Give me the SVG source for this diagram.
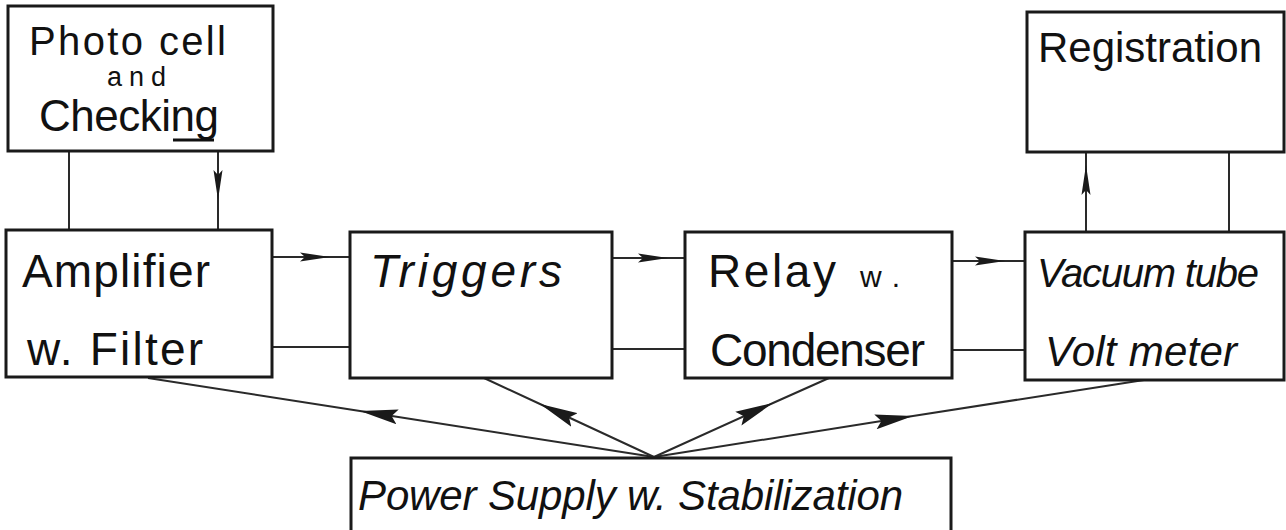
<svg xmlns="http://www.w3.org/2000/svg" width="1286" height="530" viewBox="0 0 1286 530">
<style>
.box{fill:#fff;stroke:#1a1a1a;stroke-width:3}
.t{font-family:"Liberation Sans","DejaVu Sans",sans-serif;fill:#111;font-size:46px}
.i{font-style:italic}
.c{fill:none;stroke:#2a2a2a;stroke-width:2}
</style>
<defs>
<marker id="ah" markerUnits="userSpaceOnUse" viewBox="0 0 30 10" refX="30" refY="5" markerWidth="30" markerHeight="10" orient="auto">
<path d="M0,0.5 L30,5 L0,9.5 L5,5 z" fill="#1a1a1a"/>
</marker>
<marker id="ad" markerUnits="userSpaceOnUse" viewBox="0 0 38 16" refX="38" refY="8" markerWidth="38" markerHeight="16" orient="auto">
<path d="M0,0.5 L38,8 L0,15.5 L6,8 z" fill="#1a1a1a"/>
</marker>
</defs>
<rect width="1286" height="530" fill="#fff"/>

<g id="connectors">
<path class="c" d="M69,151 L69,230"/>
<path class="c" d="M218,151 L218,200 L218,230" marker-mid="url(#ah)"/>
<path class="c" d="M272,257 L330,257 L350,257" marker-mid="url(#ah)"/>
<path class="c" d="M272,347 L350,347"/>
<path class="c" d="M612,258 L668,258 L685,258" marker-mid="url(#ah)"/>
<path class="c" d="M612,349 L685,349"/>
<path class="c" d="M952,261 L1005,261 L1025,261" marker-mid="url(#ah)"/>
<path class="c" d="M952,350 L1025,350"/>
<path class="c" d="M1086,232 L1086,165 L1086,152" marker-mid="url(#ah)"/>
<path class="c" d="M1229,152 L1229,232"/>
<path class="c" d="M654,457 L360,411 L148,378" marker-mid="url(#ad)"/>
<path class="c" d="M654,457 L540,404 L484,378" marker-mid="url(#ad)"/>
<path class="c" d="M654,457 L773,403 L829,378" marker-mid="url(#ad)"/>
<path class="c" d="M654,457 L913,416 L1144,380" marker-mid="url(#ad)"/>
</g>

<g id="photocell">
<rect class="box" x="8" y="6" width="265" height="145"/>
<text class="t" x="29" y="55" style="font-size:40px" textLength="197">Photo cell</text>
<text class="t" x="107" y="86" style="font-size:27px" textLength="59">and</text>
<text class="t" x="39" y="131" style="font-size:44px" textLength="180">Checking</text>
<line x1="173" y1="140" x2="214" y2="140" stroke="#111" stroke-width="3"/>
</g>

<g id="registration">
<rect class="box" x="1027" y="12" width="257" height="140"/>
<text class="t" x="1038" y="62" style="font-size:42px" textLength="224">Registration</text>
</g>

<g id="amplifier">
<rect class="box" x="6" y="230" width="266" height="147"/>
<text class="t" x="22" y="287" textLength="188">Amplifier</text>
<text class="t" x="27" y="365" textLength="176">w. Filter</text>
</g>

<g id="triggers">
<rect class="box" x="350" y="232" width="262" height="146"/>
<text class="t i" x="370" y="287" textLength="192">Triggers</text>
</g>

<g id="relay">
<rect class="box" x="685" y="232" width="267" height="146"/>
<text class="t" x="708" y="287" textLength="128">Relay</text>
<text class="t" x="860" y="287" style="font-size:30px" textLength="40">w.</text>
<text class="t" x="710" y="366" textLength="215">Condenser</text>
</g>

<g id="vacuum">
<rect class="box" x="1025" y="232" width="259" height="148"/>
<text class="t i" x="1037" y="287" style="font-size:40px" textLength="222">Vacuum tube</text>
<text class="t i" x="1045" y="366" style="font-size:42px" textLength="192">Volt meter</text>
</g>

<g id="power">
<rect class="box" x="351" y="458" width="600" height="80"/>
<text class="t i" x="358" y="510" style="font-size:42px" textLength="545">Power Supply w. Stabilization</text>
</g>
</svg>
